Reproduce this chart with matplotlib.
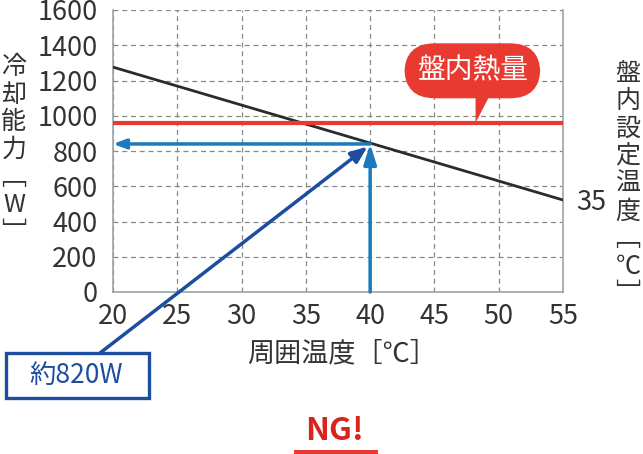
import matplotlib
matplotlib.use("Agg")
import matplotlib.pyplot as plt
from matplotlib.patches import Rectangle, Polygon
import numpy as np

plt.rcParams['font.family'] = ['Noto Sans CJK JP', 'DejaVu Sans']

# Data
ambient_temp = [20, 55]
cooling_capacity = [1276, 522]
panel_heat = 960
op_temp = 40
op_capacity = 840
x_ticks = [20, 25, 30, 35, 40, 45, 50, 55]
y_ticks = [0, 200, 400, 600, 800, 1000, 1200, 1400, 1600]
set_temp_label = "35"
left_label = ['冷', '却', '能', '力', '﹇', 'W', '﹈']
right_label = ['盤', '内', '設', '定', '温', '度', '﹇', '℃', '﹈']

W, H = 643, 454
fig = plt.figure(figsize=(W/100, H/100), dpi=100)
ax = fig.add_axes([113/W, 1-292/H, 450/W, 282/H])

RED = '#e83a30'
BLUE = '#1b79bf'
DBLUE = '#1c4d9e'
GRAY = '#9aa3ad'
TXT = '#333333'

ax.set_xlim(20, 55)
ax.set_ylim(0, 1600)
ax.set_xticks(x_ticks)
ax.set_yticks(y_ticks)
ax.tick_params(length=0, labelsize=19.5, colors=TXT)
ax.tick_params(axis='y', pad=11)
ax.tick_params(axis='x', pad=8)
for s in ax.spines.values():
    s.set_color(GRAY)
    s.set_linewidth(1.2)
ax.spines['top'].set_visible(False)
ax.grid(True, color='#888888', linestyle=(0, (4, 3)), linewidth=0.9)
ax.set_axisbelow(True)

# cooling capacity line
ax.plot(ambient_temp, cooling_capacity, color='#2b2b2b', lw=2, zorder=3)
# panel heat
ax.axhline(panel_heat, color=RED, lw=3, zorder=3)

# blue arrows
ax.annotate('', xy=(op_temp, op_capacity), xytext=(op_temp, 0),
            arrowprops=dict(arrowstyle='-|>,head_length=1.2,head_width=0.38',
                            color=BLUE, lw=2.5, shrinkA=0, shrinkB=0), zorder=4)
ax.annotate('', xy=(20, op_capacity), xytext=(op_temp, op_capacity),
            arrowprops=dict(arrowstyle='-|>,head_length=0.75,head_width=0.28',
                            color=BLUE, lw=2.5, shrinkA=0, shrinkB=0), zorder=4)

# callout 約820W
ax.annotate('', xy=(op_temp - 0.2, op_capacity - 15), xycoords='data',
            xytext=(100/W, 1-353/H), textcoords='figure fraction',
            arrowprops=dict(arrowstyle='-|>,head_length=1.0,head_width=0.4',
                            color=DBLUE, lw=2.5, shrinkA=0, shrinkB=0),
            annotation_clip=False, zorder=5)
fig.patches.append(Rectangle((6/W, 1-398/H), 143/W, 45/H, transform=fig.transFigure,
                             fc='white', ec=DBLUE, lw=2.4, zorder=6))
fig.text(76/W, 1-375/H, '約820W', color=DBLUE, fontsize=19, ha='center', va='center',
         zorder=7)

# red callout 盤内熱量
ax.text(47.95, 1255, '盤内熱量', color='white', fontsize=20, ha='center', va='center',
        zorder=6, clip_on=False,
        bbox=dict(boxstyle='round,pad=0.45,rounding_size=1.1', fc=RED, ec='none'))
tri = Polygon([[48.2, 1115], [49.3, 1115], [48.2, panel_heat]], closed=True,
              fc=RED, ec='none', zorder=6, clip_on=False)
ax.add_patch(tri)

# set temperature label
ax.text(57.2, cooling_capacity[-1] - 15, set_temp_label, fontsize=19.5, color=TXT,
        ha='center', va='center', clip_on=False)

# axis labels (vertical text)
fig.text(14/W, 1-150/H, '\n'.join(left_label), fontsize=18, color=TXT,
         ha='center', va='center', linespacing=1.08)
fig.text(628/W, 1-184/H, '\n'.join(right_label), fontsize=18, color=TXT,
         ha='center', va='center', linespacing=1.08)

fig.text(342/W, 1-354/H, '周囲温度［℃］', fontsize=19.5, color=TXT, ha='center', va='center')

# NG!
fig.text(335/W, 1-431/H, 'NG!', fontsize=23, color='#d9231d', fontweight='bold',
         ha='center', va='center')
fig.patches.append(Rectangle((294/W, 0), 84/W, 4/H, transform=fig.transFigure,
                             fc=RED, ec='none'))

fig.savefig('out.png', dpi=100)
